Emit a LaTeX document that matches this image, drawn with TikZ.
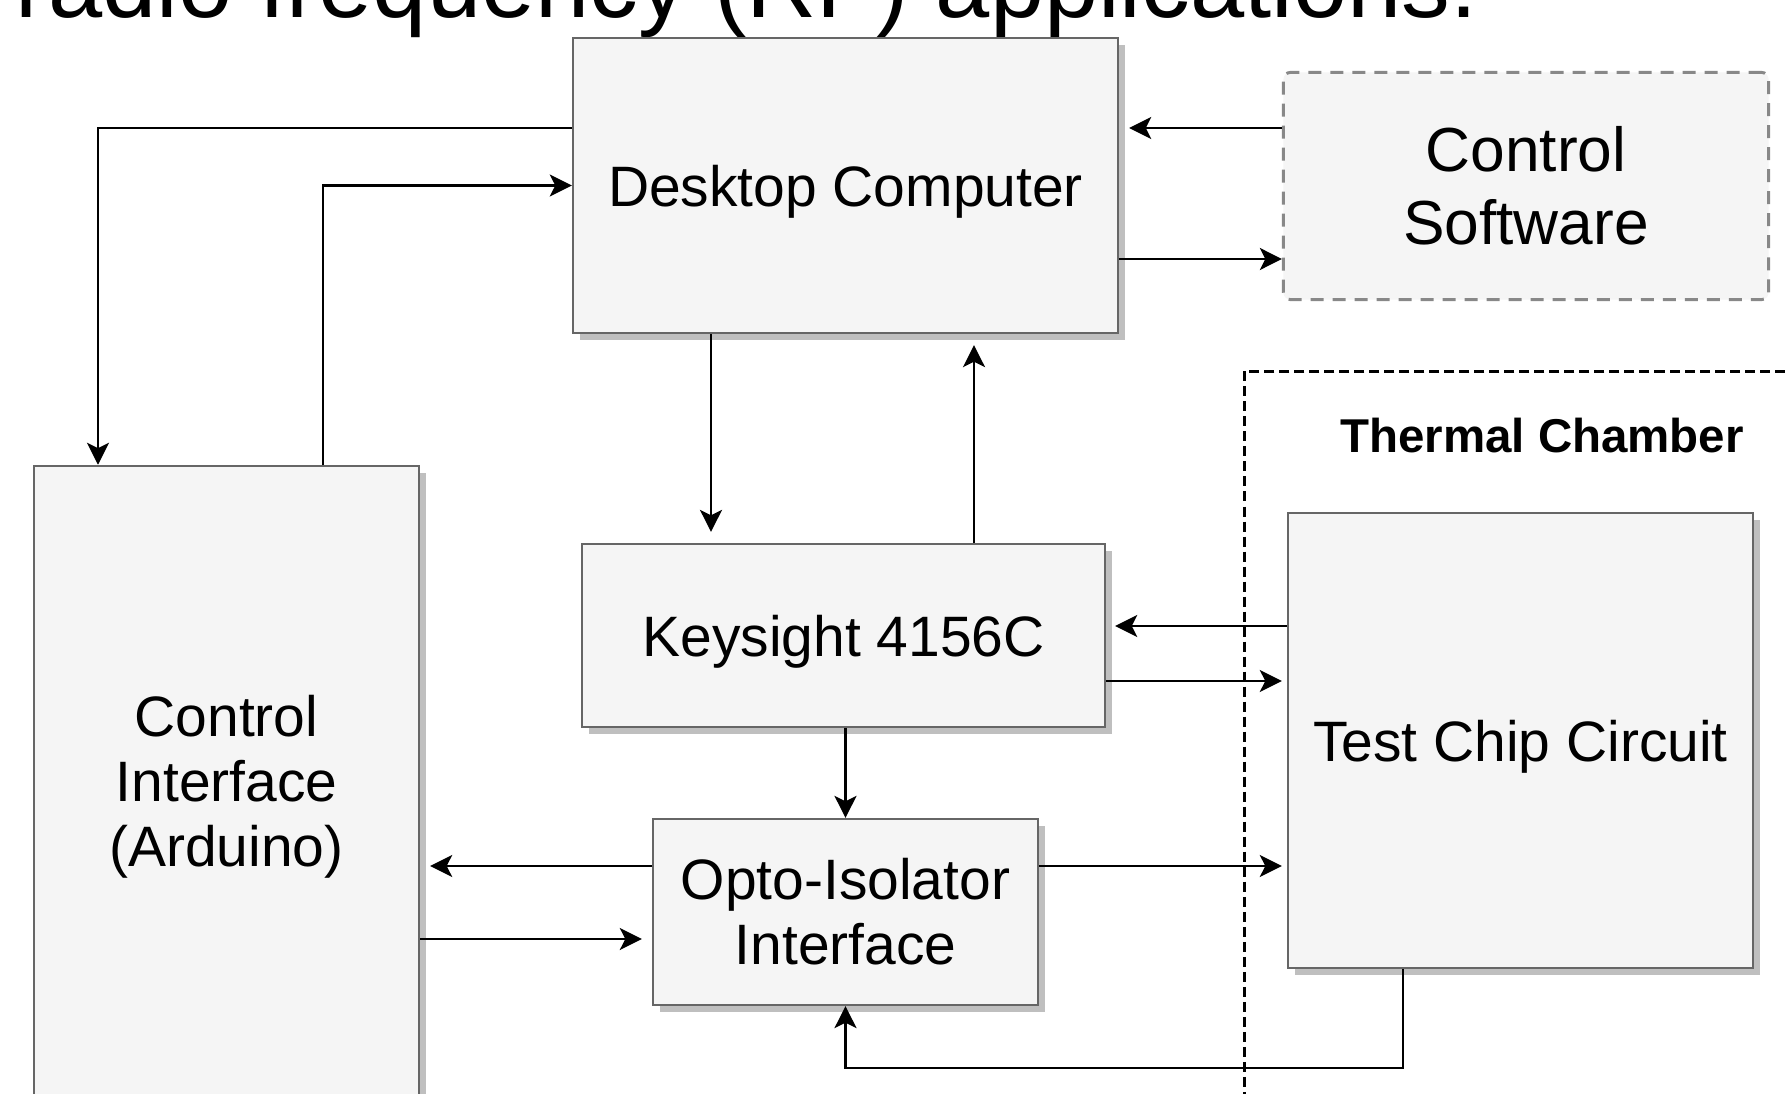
\documentclass[tikz,border=0pt]{standalone}
\usepackage{fontspec}
\setmainfont{Liberation Sans}
\usetikzlibrary{arrows.meta, positioning, shadows}
\definecolor{BoxFill}{RGB}{245, 245, 245}
\definecolor{BoxLine}{RGB}{102, 102, 102}
\definecolor{SoftLine}{RGB}{136, 136, 136}

\begin{document}
\begin{tikzpicture}[x=0.01cm, y=-0.01cm,
        block/.style={rectangle, draw=BoxLine, line width=0.6pt, fill=BoxFill, inner sep=0pt, align=center, font=\fontsize{16.2}{18.5}\selectfont, drop shadow={shadow xshift=0.07cm, shadow yshift=-0.07cm, fill=black!25, opacity=1}},
        softbox/.style={rectangle, rounded corners=2pt, draw=SoftLine, line width=0.85pt, dash pattern=on 0.13cm off 0.09cm, fill=BoxFill, align=center, font=\fontsize{17.7}{20.8}\selectfont},
        chamber/.style={rectangle, draw=black, line width=0.75pt, dash pattern=on 0.1cm off 0.05cm},
        arrow/.style={-{Stealth[length=0.22cm, width=0.22cm, inset=0.055cm]}, line width=0.7pt}
    ]
        \clip (0,0) rectangle (1787,1094);
        \node[anchor=base west, inner sep=0pt, font=\fontsize{27.7}{33}\selectfont] (caption) at (15,18) {radio frequency (RF) applications.};
        \node[chamber, anchor=north west, minimum width=5.7cm, minimum height=7.5cm] (chamber) at (1243,370) {};
        \node[font=\bfseries\fontsize{13.5}{16}\selectfont] (chamberlbl) at (1542,436) {Thermal Chamber};
        \node[block, text depth=0pt, minimum width=5.45cm, minimum height=2.95cm] (desk) at (845.5,185.5) {Desktop Computer};
        \node[softbox, minimum width=4.85cm, minimum height=2.27cm] (soft) at (1526,186) {Control\\Software};
        \node[block, text depth=0pt, minimum width=5.23cm, minimum height=1.83cm] (keys) at (843.5,635.5) {Keysight 4156C};
        \node[block, minimum width=3.85cm, minimum height=1.86cm] (opto) at (845.5,912) {Opto-Isolator\\Interface};
        \node[block, text depth=0.05em, minimum width=3.85cm, minimum height=6.32cm] (ardu) at (226.5,782) {Control\\Interface\\(Arduino)};
        \node[block, text depth=0pt, minimum width=4.65cm, minimum height=4.55cm] (chip) at (1520.5,740.5) {Test Chip Circuit};
        \draw[arrow] (desk.west |- 0,128) -| (ardu.north -| 98,0);
        \draw[arrow] (ardu.north -| 323,0) |- (desk.west);
        \draw[arrow, shorten >=0.1cm] (soft.west |- 0,128) -- (desk.east |- 0,128);
        \draw[arrow] (desk.east |- 0,259) -- (soft.west |- 0,259);
        \draw[arrow, shorten >=0.11cm] (desk.south -| 711,0) -- (keys.north -| 711,0);
        \draw[arrow, shorten >=0.11cm] (keys.north -| 974,0) -- (desk.south -| 974,0);
        \draw[arrow, shorten >=0.09cm] (chip.west |- 0,626) -- (keys.east |- 0,626);
        \draw[arrow, shorten >=0.05cm] (keys.east |- 0,681) -- (chip.west |- 0,681);
        \draw[arrow] (keys.south -| opto.north) -- (opto.north);
        \draw[arrow, shorten >=0.1cm] (opto.west |- 0,866) -- (ardu.east |- 0,866);
        \draw[arrow, shorten >=0.1cm] (ardu.east |- 0,939) -- (opto.west |- 0,939);
        \draw[arrow, shorten >=0.05cm] (opto.east |- 0,866) -- (chip.west |- 0,866);
        \draw[arrow] (chip.south -| 1403,0) -- ++(0,99) -| (opto.south);
    \end{tikzpicture}
\end{document}
